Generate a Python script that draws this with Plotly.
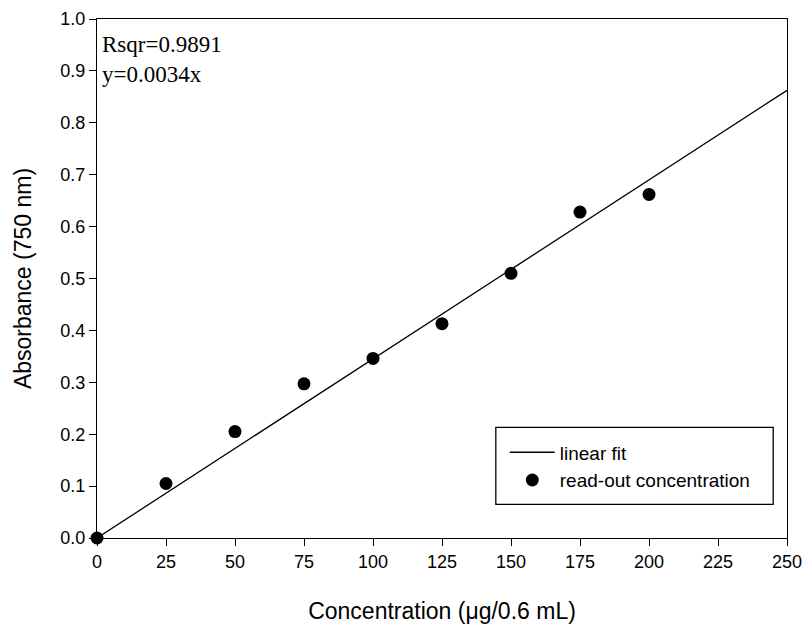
import plotly.graph_objects as go

conc = [0, 25, 50, 75, 100, 125, 150, 175, 200]
absorb = [0.0, 0.105, 0.205, 0.297, 0.346, 0.413, 0.510, 0.628, 0.662]
fit_slope = 0.00345
fit_x = [0, 250]
fit_y = [fit_slope * v for v in fit_x]
x_ticks = list(range(0, 251, 25))
y_ticks = [i / 10 for i in range(0, 11)]

fig = go.Figure()
fig.add_trace(go.Scatter(x=fit_x, y=fit_y, mode="lines", name="linear fit",
                         line=dict(color="black", width=1.3)))
fig.add_trace(go.Scatter(x=conc, y=absorb, mode="markers", name="read-out concentration",
                         marker=dict(color="black", size=13), cliponaxis=False))

# legend frame (plot-area fraction coordinates)
fig.add_shape(type="rect", xref="paper", yref="paper",
              x0=0.578, x1=0.98, y0=0.0646, y1=0.2131,
              line=dict(color="black", width=1.3), fillcolor="rgba(0,0,0,0)")

fig.update_layout(
    width=806, height=630,
    margin=dict(l=97, r=19, t=19, b=92, autoexpand=False),
    plot_bgcolor="white", paper_bgcolor="white",
    font=dict(family="Liberation Sans, Arial", size=18, color="black"),
    showlegend=True,
    legend=dict(x=0.591, y=0.2015, xanchor="left", yanchor="top",
                borderwidth=0, bgcolor="rgba(0,0,0,0)",
                font=dict(size=19), itemwidth=45, tracegroupgap=0),
    annotations=[
        dict(text="Rsqr=0.9891<br>y=0.0034x", x=0.004, y=0.978, xref="paper", yref="paper",
             xanchor="left", yanchor="top", showarrow=False, align="left",
             font=dict(family="Liberation Serif, Times New Roman", size=23, color="black")),
    ],
)
fig.update_xaxes(range=[0, 250], tickvals=x_ticks, ticks="outside", ticklen=7, tickwidth=1.3,
                 tickcolor="black", showline=True, linecolor="black", linewidth=1.3, mirror=True,
                 showgrid=False, zeroline=False, automargin=False,
                 title=dict(text="Concentration (μg/0.6 mL)", font=dict(size=23), standoff=32))
fig.update_yaxes(range=[0, 1.0], tickvals=y_ticks, tickformat=".1f", ticks="outside", ticklen=7,
                 tickwidth=1.3, tickcolor="black", showline=True, linecolor="black", linewidth=1.3,
                 mirror=True, showgrid=False, zeroline=False, automargin=False,
                 title=dict(text="Absorbance (750 nm)", font=dict(size=23), standoff=22))

fig.write_html("out.html")
